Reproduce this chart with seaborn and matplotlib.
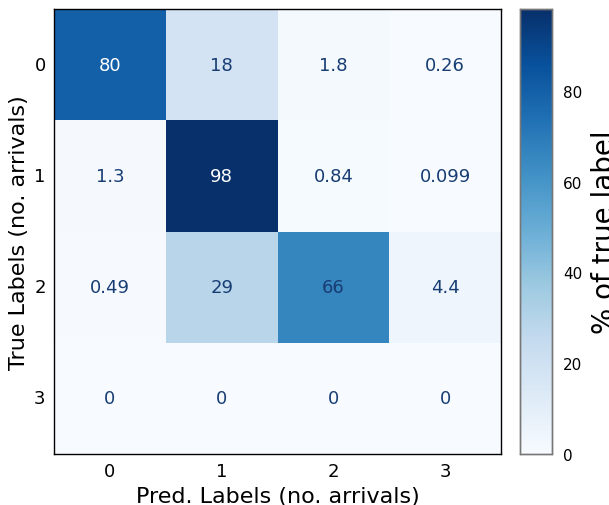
import numpy as np
import pandas as pd
import matplotlib
matplotlib.use("Agg")
import matplotlib.pyplot as plt
import seaborn as sns

labels = ["0", "1", "2", "3"]
row0 = [80, 18, 1.8, 0.26]
row1 = [1.3, 98, 0.84, 0.099]
row2 = [0.49, 29, 66, 4.4]
row3 = [0, 0, 0, 0]
cbar_ticks = [0, 20, 40, 60, 80]

data = pd.DataFrame([row0, row1, row2, row3], index=labels, columns=labels)

sns.set_style("white")
plt.rcParams['font.family'] = ['DejaVu Sans']
plt.rcParams['text.color'] = 'black'
plt.rcParams['axes.labelcolor'] = 'black'
plt.rcParams['xtick.color'] = 'black'
plt.rcParams['ytick.color'] = 'black'

fig = plt.figure(figsize=(6.09, 5.06), dpi=100)
ax = fig.add_axes([54/609, 51/506, 447/609, 445/506])
cax = fig.add_axes([520/609, 51/506, 32/609, 445/506])

sns.heatmap(data, ax=ax, cbar_ax=cax, cmap="Blues", vmin=0, vmax=data.values.max(),
            annot=False, cbar=True)

vals = data.values
for i in range(vals.shape[0]):
    for j in range(vals.shape[1]):
        v = vals[i, j]
        col = "white" if v >= 75 else "#173d73"
        ax.text(j + 0.5, i + 0.5, format(v, ".2g"), ha="center", va="center",
                fontsize=13, color=col)

for s in ax.spines.values():
    s.set_visible(True)
    s.set_color("black")
    s.set_linewidth(1.0)

ax.set_xlabel("Pred. Labels (no. arrivals)", fontsize=16, color="black")
ax.set_ylabel("True Labels (no. arrivals)", fontsize=16, color="black")
ax.tick_params(axis="both", length=0, labelsize=13, pad=6, labelcolor="black")
ax.set_yticklabels(labels, rotation=0)
ax.set_xticklabels(labels, rotation=0)

cax.set_yticks(cbar_ticks)
cax.tick_params(length=0, labelsize=11, pad=8, labelcolor="black")
cax.set_ylabel("% of true label", fontsize=20, labelpad=6, color="black")
for s in cax.spines.values():
    s.set_visible(True)
    s.set_color("#777777")
    s.set_linewidth(1.0)

fig.savefig("out.png", dpi=100)
